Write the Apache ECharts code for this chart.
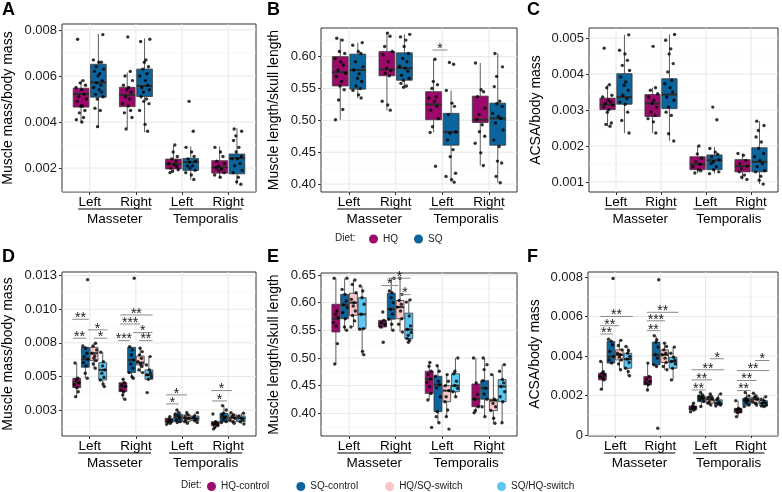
<!DOCTYPE html>
<html>
<head>
<meta charset="utf-8">
<script src="https://cdn.jsdelivr.net/npm/echarts@6/dist/echarts.min.js"></script>
<style>
  html, body { margin: 0; padding: 0; background: #fff; }
  #chart { width: 782px; height: 492px; }
</style>
</head>
<body>
<div id="chart"></div>
<script>
// categories
const SIDES = ['Left', 'Right', 'Left', 'Right'];
const MUSCLES = ['Masseter', 'Temporalis'];
const DIET2 = ['HQ', 'SQ'];
const DIET4 = ['HQ-control', 'SQ-control', 'HQ/SQ-switch', 'SQ/HQ-switch'];

// tick values / labels
const A_TICKS = [0.002, 0.004, 0.006, 0.008];
const A_LABELS = ['0.002', '0.004', '0.006', '0.008'];
const A_MINOR = [0.001, 0.003, 0.005, 0.007];
const B_TICKS = [0.40, 0.45, 0.50, 0.55, 0.60];
const B_LABELS = ['0.40', '0.45', '0.50', '0.55', '0.60'];
const B_MINOR = [0.425, 0.475, 0.525, 0.575, 0.625];
const C_TICKS = [0.001, 0.002, 0.003, 0.004, 0.005];
const C_LABELS = ['0.001', '0.002', '0.003', '0.004', '0.005'];
const C_MINOR = [0.0015, 0.0025, 0.0035, 0.0045];
const D_TICKS = [0.0025, 0.005, 0.0075, 0.01, 0.0125];
const D_LABELS = ['0.003', '0.005', '0.008', '0.010', '0.013'];
const D_MINOR = [0.00125, 0.00375, 0.00625, 0.00875, 0.01125];
const E_TICKS = [0.40, 0.45, 0.50, 0.55, 0.60, 0.65];
const E_LABELS = ['0.40', '0.45', '0.50', '0.55', '0.60', '0.65'];
const E_MINOR = [0.375, 0.425, 0.475, 0.525, 0.575, 0.625];
const F_TICKS = [0, 0.002, 0.004, 0.006, 0.008];
const F_LABELS = ['0', '0.002', '0.004', '0.006', '0.008'];
const F_MINOR = [0.001, 0.003, 0.005, 0.007];

// box stats per category: [min, q1, median, q3, max]  (Masseter L, Masseter R, Temporalis L, Temporalis R)
const A_HQ_BOX = [[0.00398, 0.00465, 0.00522, 0.00547, 0.0058], [0.00373, 0.00467, 0.00518, 0.00551, 0.00615], [0.00181, 0.00196, 0.00217, 0.00239, 0.00297], [0.00157, 0.00178, 0.00203, 0.00232, 0.00294]];
const A_SQ_BOX = [[0.00376, 0.00508, 0.00572, 0.00651, 0.00783], [0.00356, 0.00511, 0.00557, 0.0063, 0.00764], [0.00149, 0.0019, 0.00226, 0.00242, 0.00294], [0.00128, 0.00175, 0.00243, 0.00261, 0.00373]];
const A_HQ_PTS = [
  [0.0076, 0.0058, 0.0057, 0.0056, 0.0055, 0.0054, 0.0052, 0.0051, 0.0050, 0.0049, 0.0047, 0.0047, 0.0045, 0.0044, 0.0042, 0.0041, 0.0040],
  [0.0077, 0.0062, 0.0060, 0.0058, 0.0056, 0.0055, 0.0054, 0.0053, 0.0051, 0.0050, 0.0048, 0.0047, 0.0045, 0.0044, 0.0042, 0.0037],
  [0.0030, 0.0027, 0.0025, 0.0024, 0.0023, 0.0022, 0.00214, 0.00207, 0.0020, 0.00193, 0.00186, 0.0018],
  [0.0029, 0.0027, 0.0025, 0.0023, 0.0022, 0.0021, 0.0020, 0.00196, 0.0019, 0.0018, 0.0017, 0.0016]
];
const A_SQ_PTS = [
  [0.0078, 0.0067, 0.0066, 0.0066, 0.0064, 0.0063, 0.0062, 0.0061, 0.0060, 0.0058, 0.0057, 0.0056, 0.0055, 0.0054, 0.0053, 0.0052, 0.0051, 0.0050, 0.0046, 0.0045, 0.0038],
  [0.0076, 0.0075, 0.0067, 0.0066, 0.0064, 0.0063, 0.0061, 0.0060, 0.0058, 0.0056, 0.0055, 0.0054, 0.0053, 0.0051, 0.0050, 0.0049, 0.0048, 0.0045, 0.0039, 0.0036],
  [0.0049, 0.0036, 0.0029, 0.0027, 0.0025, 0.0024, 0.0023, 0.00226, 0.0021, 0.0021, 0.0020, 0.0019, 0.0018, 0.0017, 0.0015],
  [0.0037, 0.0036, 0.0034, 0.0032, 0.0029, 0.0027, 0.0025, 0.0024, 0.0024, 0.0022, 0.0021, 0.0019, 0.0018, 0.0016, 0.0014, 0.0013]
];

const B_HQ_BOX = [[0.501, 0.554, 0.5755, 0.600, 0.629], [0.516, 0.570, 0.580, 0.608, 0.637], [0.481, 0.501, 0.525, 0.545, 0.596], [0.429, 0.4966, 0.501, 0.538, 0.590]];
const B_SQ_BOX = [[0.535, 0.549, 0.579, 0.604, 0.622], [0.552, 0.563, 0.582, 0.606, 0.635], [0.403, 0.461, 0.4815, 0.511, 0.547], [0.402, 0.461, 0.503, 0.527, 0.605]];
const B_HQ_PTS = [
  [0.629, 0.626, 0.608, 0.605, 0.597, 0.592, 0.587, 0.579, 0.574, 0.569, 0.561, 0.554, 0.548, 0.532, 0.517, 0.501],
  [0.637, 0.632, 0.616, 0.608, 0.603, 0.592, 0.582, 0.578, 0.574, 0.570, 0.530, 0.524, 0.516],
  [0.596, 0.561, 0.556, 0.550, 0.537, 0.535, 0.530, 0.522, 0.516, 0.503, 0.490, 0.481, 0.428],
  [0.590, 0.548, 0.545, 0.537, 0.519, 0.509, 0.501, 0.493, 0.482, 0.475, 0.464, 0.449, 0.429]
];
const B_SQ_PTS = [
  [0.622, 0.618, 0.608, 0.605, 0.592, 0.584, 0.579, 0.573, 0.566, 0.561, 0.554, 0.550, 0.547, 0.540, 0.535],
  [0.635, 0.631, 0.626, 0.616, 0.605, 0.597, 0.592, 0.585, 0.582, 0.577, 0.571, 0.566, 0.563, 0.558, 0.554, 0.552],
  [0.591, 0.588, 0.547, 0.527, 0.522, 0.509, 0.482, 0.480, 0.469, 0.454, 0.443, 0.417, 0.412, 0.407, 0.403],
  [0.605, 0.584, 0.569, 0.553, 0.530, 0.526, 0.522, 0.511, 0.506, 0.503, 0.496, 0.485, 0.469, 0.459, 0.436, 0.433, 0.412, 0.402]
];

const C_HQ_BOX = [[0.00255, 0.00301, 0.00315, 0.00333, 0.0037], [0.00236, 0.00282, 0.00318, 0.00343, 0.00362], [0.00125, 0.00134, 0.00149, 0.0017, 0.0020], [0.00107, 0.00128, 0.00144, 0.00162, 0.00179]];
const C_SQ_BOX = [[0.00236, 0.00316, 0.00336, 0.00401, 0.00509], [0.00214, 0.00304, 0.00343, 0.00387, 0.0051], [0.00123, 0.00134, 0.0016, 0.00175, 0.00197], [0.00094, 0.00128, 0.00156, 0.00195, 0.00269]];
const C_HQ_PTS = [
  [0.00472, 0.0037, 0.00362, 0.00341, 0.00336, 0.00327, 0.00322, 0.00318, 0.00313, 0.00308, 0.00301, 0.00294, 0.00264, 0.0026, 0.00255],
  [0.00477, 0.00362, 0.00355, 0.00345, 0.00336, 0.00327, 0.00318, 0.00308, 0.00294, 0.00285, 0.00276, 0.00267, 0.00236],
  [0.0020, 0.00178, 0.00166, 0.00156, 0.00149, 0.00142, 0.00134, 0.00131, 0.00125],
  [0.00179, 0.00174, 0.0016, 0.00151, 0.00144, 0.00137, 0.00128, 0.00119, 0.00113, 0.00107]
];
const C_SQ_PTS = [
  [0.00509, 0.00466, 0.00456, 0.00438, 0.00424, 0.0041, 0.00392, 0.00378, 0.00369, 0.00355, 0.00341, 0.00331, 0.00322, 0.00316, 0.00294, 0.00271, 0.00236],
  [0.0051, 0.00494, 0.0047, 0.00456, 0.00429, 0.00406, 0.00383, 0.00373, 0.00362, 0.0035, 0.00336, 0.00327, 0.00308, 0.00294, 0.00285, 0.00234, 0.00214],
  [0.00308, 0.00273, 0.00193, 0.00183, 0.00177, 0.0017, 0.00162, 0.00156, 0.00151, 0.00142, 0.00134, 0.00128, 0.00123],
  [0.00269, 0.00257, 0.00243, 0.00225, 0.00211, 0.00193, 0.00179, 0.0017, 0.0016, 0.00151, 0.00142, 0.00132, 0.00128, 0.00116, 0.00105, 0.00094]
];

const D_HQC_BOX = [[0.0035, 0.00416, 0.00453, 0.00486, 0.0060], [0.0033, 0.00386, 0.00424, 0.00453, 0.00478], [0.00143, 0.00156, 0.00171, 0.00188, 0.0020], [0.00109, 0.00133, 0.00151, 0.00163, 0.00175]];
const D_SQC_BOX = [[0.00486, 0.00568, 0.00627, 0.00716, 0.00726], [0.00486, 0.00528, 0.00622, 0.00716, 0.00721], [0.00156, 0.00163, 0.0020, 0.0022, 0.0025], [0.00156, 0.00163, 0.00196, 0.00225, 0.00282]];
const D_HQS_BOX = [[0.0056, 0.00617, 0.00672, 0.00716, 0.00746], [0.00528, 0.00585, 0.00602, 0.00652, 0.00709], [0.00151, 0.00163, 0.00188, 0.00213, 0.0023], [0.00151, 0.00163, 0.00193, 0.00213, 0.0023]];
const D_SQH_BOX = [[0.00424, 0.00473, 0.00548, 0.00602, 0.00679], [0.00475, 0.00478, 0.00511, 0.00548, 0.00647], [0.00156, 0.00171, 0.00188, 0.00205, 0.0023], [0.00146, 0.00163, 0.00188, 0.00205, 0.00225]];
const D_HQC_PTS = [
  [0.0060, 0.00486, 0.00473, 0.00453, 0.00436, 0.00416, 0.00386, 0.00349],
  [0.00478, 0.00453, 0.00436, 0.00424, 0.00399, 0.00386, 0.00362, 0.0033],
  [0.0020, 0.0018, 0.00171, 0.00161, 0.00151, 0.00143],
  [0.0022, 0.00163, 0.00151, 0.00143, 0.00133, 0.00121, 0.00109]
];
const D_SQC_PTS = [
  [0.0122, 0.00726, 0.00709, 0.00672, 0.00647, 0.00627, 0.00602, 0.00578, 0.00523, 0.00486],
  [0.0123, 0.00721, 0.00697, 0.00659, 0.00622, 0.00592, 0.0056, 0.00528, 0.00498, 0.00486],
  [0.0025, 0.0023, 0.0022, 0.00205, 0.00188, 0.00176, 0.00163, 0.00156],
  [0.00282, 0.0025, 0.00225, 0.00213, 0.00196, 0.0018, 0.00163, 0.00156]
];
const D_HQS_PTS = [
  [0.00746, 0.00726, 0.00697, 0.00672, 0.00652, 0.00635, 0.00617, 0.00592, 0.0056],
  [0.00709, 0.00684, 0.0066, 0.00635, 0.0061, 0.00592, 0.00573, 0.00548, 0.00528],
  [0.0023, 0.00213, 0.0020, 0.00188, 0.00176, 0.00163, 0.00151],
  [0.0023, 0.00213, 0.0020, 0.00188, 0.00176, 0.00163, 0.00151]
];
const D_SQH_PTS = [
  [0.00679, 0.0061, 0.00578, 0.00548, 0.00523, 0.00493, 0.00473, 0.00444, 0.00424],
  [0.00647, 0.00585, 0.00548, 0.00528, 0.00511, 0.00493, 0.00478, 0.00379],
  [0.0023, 0.00205, 0.00193, 0.0018, 0.00171, 0.00156],
  [0.00225, 0.00205, 0.00188, 0.00176, 0.00163, 0.00146]
];

const E_HQC_BOX = [[0.489, 0.547, 0.571, 0.597, 0.644], [0.553, 0.556, 0.562, 0.568, 0.570], [0.424, 0.436, 0.462, 0.476, 0.492], [0.401, 0.412, 0.4255, 0.453, 0.50]];
const E_SQC_BOX = [[0.550, 0.571, 0.596, 0.615, 0.644], [0.550, 0.570, 0.588, 0.617, 0.644], [0.383, 0.403, 0.4515, 0.467, 0.486], [0.394, 0.4255, 0.4455, 0.459, 0.50]];
const E_HQS_BOX = [[0.556, 0.577, 0.600, 0.617, 0.641], [0.547, 0.571, 0.592, 0.604, 0.644], [0.394, 0.421, 0.441, 0.450, 0.470], [0.382, 0.405, 0.423, 0.4255, 0.470]];
const E_SQH_BOX = [[0.506, 0.553, 0.579, 0.609, 0.630], [0.5285, 0.535, 0.5515, 0.581, 0.605], [0.430, 0.439, 0.450, 0.4715, 0.500], [0.383, 0.421, 0.4485, 0.461, 0.488]];
const E_HQC_PTS = [
  [0.644, 0.585, 0.579, 0.573, 0.564, 0.558, 0.526, 0.489],
  [0.583, 0.568, 0.564, 0.560, 0.556, 0.5285],
  [0.492, 0.485, 0.476, 0.470, 0.462, 0.456, 0.448, 0.436, 0.424, 0.3745],
  [0.50, 0.455, 0.434, 0.4255, 0.412, 0.405, 0.401]
];
const E_SQC_PTS = [
  [0.644, 0.624, 0.615, 0.603, 0.596, 0.591, 0.582, 0.571, 0.556, 0.550],
  [0.644, 0.621, 0.618, 0.609, 0.600, 0.588, 0.579, 0.570, 0.561, 0.550],
  [0.486, 0.476, 0.467, 0.458, 0.4515, 0.446, 0.430, 0.403, 0.394, 0.383],
  [0.50, 0.488, 0.479, 0.459, 0.4455, 0.435, 0.4255, 0.412, 0.394]
];
const E_HQS_PTS = [
  [0.641, 0.633, 0.618, 0.606, 0.600, 0.594, 0.585, 0.577, 0.567, 0.556],
  [0.644, 0.615, 0.604, 0.597, 0.592, 0.585, 0.571, 0.561, 0.547],
  [0.470, 0.458, 0.450, 0.441, 0.430, 0.421, 0.406, 0.394, 0.3715],
  [0.470, 0.4255, 0.418, 0.412, 0.405, 0.391, 0.382]
];
const E_SQH_PTS = [
  [0.630, 0.621, 0.609, 0.597, 0.579, 0.553, 0.552, 0.512, 0.506],
  [0.605, 0.601, 0.576, 0.558, 0.5515, 0.546, 0.541, 0.535, 0.532, 0.5285],
  [0.500, 0.476, 0.4715, 0.458, 0.450, 0.445, 0.439, 0.430],
  [0.488, 0.476, 0.461, 0.455, 0.4485, 0.439, 0.430, 0.421, 0.383]
];

const F_HQC_BOX = [[0.00232, 0.00279, 0.00296, 0.00313, 0.00372], [0.00228, 0.00254, 0.00271, 0.00296, 0.00364], [0.00118, 0.00127, 0.00135, 0.00147, 0.00161], [0.00093, 0.00113, 0.00127, 0.00135, 0.00174]];
const F_SQC_BOX = [[0.00364, 0.00364, 0.00397, 0.00474, 0.00485], [0.00347, 0.00355, 0.00406, 0.0047, 0.00502], [0.00144, 0.00169, 0.00186, 0.00198, 0.00215], [0.00144, 0.00152, 0.00174, 0.00186, 0.00215]];
const F_HQS_BOX = [[0.0033, 0.0038, 0.00406, 0.00431, 0.00479], [0.0033, 0.00367, 0.00406, 0.00431, 0.00465], [0.00152, 0.00161, 0.00181, 0.00191, 0.00208], [0.00152, 0.00161, 0.00181, 0.00191, 0.00211]];
const F_SQH_BOX = [[0.003, 0.00338, 0.00384, 0.00414, 0.00448], [0.00279, 0.00338, 0.00372, 0.00394, 0.00445], [0.00147, 0.00152, 0.00161, 0.00178, 0.00208], [0.00144, 0.00147, 0.00161, 0.00174, 0.00194]];
const F_HQC_PTS = [
  [0.00372, 0.0032, 0.00313, 0.00305, 0.00296, 0.00288, 0.00279, 0.00232],
  [0.00364, 0.00296, 0.00283, 0.00271, 0.00262, 0.00254, 0.00228],
  [0.00161, 0.00147, 0.0014, 0.00135, 0.00127, 0.00118],
  [0.00174, 0.00135, 0.0013, 0.00127, 0.00118, 0.00113, 0.00093]
];
const F_SQC_PTS = [
  [0.00792, 0.00485, 0.00474, 0.00457, 0.00423, 0.00397, 0.0038, 0.00364],
  [0.00786, 0.00502, 0.00482, 0.0047, 0.00445, 0.00406, 0.00389, 0.00355, 0.00347, 0.00034],
  [0.00215, 0.00203, 0.00198, 0.00191, 0.00186, 0.00178, 0.00169, 0.00144],
  [0.00215, 0.00198, 0.00186, 0.00178, 0.00174, 0.00164, 0.00152, 0.00144]
];
const F_HQS_PTS = [
  [0.00479, 0.00453, 0.00431, 0.00414, 0.00406, 0.00394, 0.0038, 0.0036, 0.0033],
  [0.00465, 0.00448, 0.00431, 0.00414, 0.00406, 0.00389, 0.00367, 0.00347, 0.0033],
  [0.00208, 0.00195, 0.00191, 0.00181, 0.00169, 0.00161, 0.00152],
  [0.00211, 0.00198, 0.00191, 0.00181, 0.00169, 0.00161, 0.00152]
];
const F_SQH_PTS = [
  [0.00448, 0.00428, 0.00414, 0.00397, 0.00384, 0.00367, 0.00338, 0.00321, 0.003],
  [0.00445, 0.00414, 0.00394, 0.0038, 0.00372, 0.0036, 0.00338, 0.00279],
  [0.00208, 0.00186, 0.00178, 0.00169, 0.00161, 0.00152, 0.00147],
  [0.00194, 0.00181, 0.00174, 0.00166, 0.00161, 0.00152, 0.00147, 0.00144]
];

// significance bars: [xFrom, xTo, y, number of stars]
const B_SIG = [[2.79, 3.11, 0.6104, 1]];
const D_SIG = [
  [0.62, 0.98, 0.00925, 2], [0.96, 1.38, 0.00846, 1], [0.64, 0.92, 0.00784, 2], [1.09, 1.38, 0.00784, 1],
  [1.66, 2.36, 0.00957, 2], [1.66, 2.09, 0.0089, 3], [1.94, 2.36, 0.00826, 1], [1.61, 1.87, 0.00766, 3], [2.07, 2.36, 0.00766, 2],
  [2.65, 3.11, 0.00362, 1], [2.65, 2.93, 0.00295, 1], [3.63, 4.08, 0.00394, 1], [3.65, 3.97, 0.00317, 1]
];
const E_SIG = [[1.69, 2.06, 0.6309, 1], [1.84, 2.32, 0.6442, 1], [2.08, 2.32, 0.6145, 1]];
const F_SIG = [
  [0.67, 1.39, 0.0060, 2], [0.67, 1.09, 0.00553, 2], [0.67, 0.95, 0.00511, 2],
  [1.70, 2.40, 0.00621, 2], [1.70, 2.10, 0.00578, 3], [1.70, 1.99, 0.00528, 2],
  [3.10, 3.41, 0.00386, 1], [2.69, 3.41, 0.0033, 2], [2.69, 3.14, 0.00279, 2], [2.69, 2.99, 0.00228, 2],
  [4.09, 4.41, 0.00377, 1], [3.69, 4.41, 0.00326, 2], [3.69, 4.13, 0.00276, 2], [3.69, 3.99, 0.00225, 2]
];

// muscle group brackets under the axis: [from, to, muscle index]
const GROUPS = [[0.75, 2.33, 0], [2.72, 4.3, 1]];

// fixed jitter pattern for the dots (fraction of the jitter width)
const JITTER = [-0.62, 0.35, -0.15, 0.8, -0.9, 0.1, 0.55, -0.4, 0.95, -0.7, 0.25, -0.05, 0.7, -0.3, 0.45, -0.85, 0.15, 0.6, -0.5, 0.85, -0.2];

const COLORS2 = ['#9B0A6B', '#0B659C'];
const COLORS4 = ['#9B0A6B', '#0B659C', '#F8C5C8', '#5CC7F3'];
const FONT = '"Liberation Sans", Arial, Helvetica, sans-serif';

const PANELS = [
  { letter: 'A', rect: [62, 24, 194, 168], yMin: 0.00096, yMax: 0.00826, ticks: A_TICKS, labels: A_LABELS, minor: A_MINOR,
    title: 'Muscle mass/body mass', gap: 47, boxes: [A_HQ_BOX, A_SQ_BOX], pts: [A_HQ_PTS, A_SQ_PTS], sig: [] },
  { letter: 'B', rect: [321, 28, 196, 164], yMin: 0.3875, yMax: 0.645, ticks: B_TICKS, labels: B_LABELS, minor: B_MINOR,
    title: 'Muscle length/skull length', gap: 40, boxes: [B_HQ_BOX, B_SQ_BOX], pts: [B_HQ_PTS, B_SQ_PTS], sig: B_SIG },
  { letter: 'C', rect: [589, 28, 189, 164], yMin: 0.00072, yMax: 0.00528, ticks: C_TICKS, labels: C_LABELS, minor: C_MINOR,
    title: 'ACSA/body mass', gap: 46, boxes: [C_HQ_BOX, C_SQ_BOX], pts: [C_HQ_PTS, C_SQ_PTS], sig: [] },
  { letter: 'D', rect: [62, 272, 194, 164], yMin: 0.00056, yMax: 0.01277, ticks: D_TICKS, labels: D_LABELS, minor: D_MINOR,
    title: 'Muscle mass/body mass', gap: 47, boxes: [D_HQC_BOX, D_SQC_BOX, D_HQS_BOX, D_SQH_BOX], pts: [D_HQC_PTS, D_SQC_PTS, D_HQS_PTS, D_SQH_PTS], sig: D_SIG },
  { letter: 'E', rect: [321, 273, 196, 163], yMin: 0.359, yMax: 0.6536, ticks: E_TICKS, labels: E_LABELS, minor: E_MINOR,
    title: 'Muscle length/skull length', gap: 40, boxes: [E_HQC_BOX, E_SQC_BOX, E_HQS_BOX, E_SQH_BOX], pts: [E_HQC_PTS, E_SQC_PTS, E_HQS_PTS, E_SQH_PTS], sig: E_SIG },
  { letter: 'F', rect: [588, 272, 190, 164], yMin: -0.00005, yMax: 0.00825, ticks: F_TICKS, labels: F_LABELS, minor: F_MINOR,
    title: 'ACSA/body mass', gap: 46, boxes: [F_HQC_BOX, F_SQC_BOX, F_HQS_BOX, F_SQH_BOX], pts: [F_HQC_PTS, F_SQC_PTS, F_HQS_PTS, F_SQH_PTS], sig: F_SIG }
];

function boxRenderer(halfW) {
  return function (params, api) {
    const x = api.value(0);
    const pMin = api.coord([x, api.value(1)]);
    const pQ1 = api.coord([x, api.value(2)]);
    const pMed = api.coord([x, api.value(3)]);
    const pQ3 = api.coord([x, api.value(4)]);
    const pMax = api.coord([x, api.value(5)]);
    const left = api.coord([x - halfW, api.value(3)])[0];
    const right = api.coord([x + halfW, api.value(3)])[0];
    return {
      type: 'group',
      children: [
        { type: 'line', shape: { x1: pMin[0], y1: pMin[1], x2: pQ1[0], y2: pQ1[1] }, style: { stroke: '#333', lineWidth: 0.8 } },
        { type: 'line', shape: { x1: pQ3[0], y1: pQ3[1], x2: pMax[0], y2: pMax[1] }, style: { stroke: '#333', lineWidth: 0.8 } },
        { type: 'rect', shape: { x: left, y: pQ3[1], width: right - left, height: pQ1[1] - pQ3[1] },
          style: { fill: api.visual('color'), stroke: '#3a3a3a', lineWidth: 0.8 } },
        { type: 'line', shape: { x1: left, y1: pMed[1], x2: right, y2: pMed[1] }, style: { stroke: '#2b2b2b', lineWidth: 2 } }
      ]
    };
  };
}

function renderGridLine(params, api) {
  const cs = params.coordSys;
  const kind = api.value(0);
  const v = api.value(1);
  if (kind === 2) {
    const x = api.coord([v, 0])[0];
    return { type: 'line', shape: { x1: x, y1: cs.y, x2: x, y2: cs.y + cs.height }, style: { stroke: '#E6E6E6', lineWidth: 1 } };
  }
  const y = api.coord([1, v])[1];
  return { type: 'line', shape: { x1: cs.x, y1: y, x2: cs.x + cs.width, y2: y },
    style: { stroke: kind === 0 ? '#E6E6E6' : '#F1F1F1', lineWidth: kind === 0 ? 1 : 0.6 } };
}

function renderSig(params, api) {
  const a = api.coord([api.value(0), api.value(2)]);
  const b = api.coord([api.value(1), api.value(2)]);
  return {
    type: 'group',
    children: [
      { type: 'line', shape: { x1: a[0], y1: a[1], x2: b[0], y2: b[1] }, style: { stroke: '#8a8a8a', lineWidth: 1 } },
      { type: 'text', x: (a[0] + b[0]) / 2, y: a[1] - 1,
        style: { text: '*'.repeat(api.value(3)), fill: '#1a1a1a', font: '14px ' + FONT, align: 'center', verticalAlign: 'middle' } }
    ]
  };
}

function renderGroupLabel(params, api) {
  const cs = params.coordSys;
  const x1 = api.coord([api.value(0), 0])[0];
  const x2 = api.coord([api.value(1), 0])[0];
  const yb = cs.y + cs.height;
  return {
    type: 'group',
    children: [
      { type: 'line', shape: { x1: x1, y1: yb + 17, x2: x2, y2: yb + 17 }, style: { stroke: '#000', lineWidth: 1 } },
      { type: 'text', x: (x1 + x2) / 2, y: yb + 27,
        style: { text: MUSCLES[api.value(2)], fill: '#000', font: '13.5px ' + FONT, align: 'center', verticalAlign: 'middle' } }
    ]
  };
}

const grids = [], xAxes = [], yAxes = [], series = [], graphics = [];

PANELS.forEach((p, i) => {
  const n = p.boxes.length;
  const offs = n === 2 ? [-0.1875, 0.1875] : [-0.28125, -0.09375, 0.09375, 0.28125];
  const halfW = n === 2 ? 0.17 : 0.085;
  const spread = n === 2 ? 0.12 : 0.06;
  const names = n === 2 ? DIET2 : DIET4;
  const colors = n === 2 ? COLORS2 : COLORS4;

  grids.push({ left: p.rect[0], top: p.rect[1], width: p.rect[2], height: p.rect[3], show: true,
    borderColor: '#333', borderWidth: 1, backgroundColor: 'transparent', containLabel: false, outerBoundsMode: 'none' });

  xAxes.push({
    type: 'value', gridIndex: i, min: 0.4, max: 4.6,
    axisLine: { show: false }, splitLine: { show: false },
    axisTick: { show: true, customValues: [1, 2, 3, 4], length: 3, lineStyle: { color: '#333' } },
    axisLabel: { customValues: [1, 2, 3, 4], formatter: (v) => SIDES[Math.round(v) - 1],
      fontSize: 13.5, color: '#000', fontFamily: FONT, margin: 3 }
  });

  yAxes.push({
    type: 'value', gridIndex: i, min: p.yMin, max: p.yMax,
    axisLine: { show: false }, splitLine: { show: false },
    axisTick: { show: true, customValues: p.ticks, length: 3, lineStyle: { color: '#333' } },
    axisLabel: { customValues: p.ticks, fontSize: 13, color: '#1a1a1a', fontFamily: FONT, margin: 5,
      formatter: (v) => { const k = p.ticks.findIndex(t => Math.abs(t - v) < 1e-9); return k >= 0 ? p.labels[k] : ''; } },
    name: p.title, nameLocation: 'middle', nameGap: p.gap, nameMoveOverlap: false,
    nameTextStyle: { fontSize: 14, color: '#000', fontFamily: FONT }
  });

  // panel grid lines
  const gl = [];
  p.ticks.forEach(v => gl.push([0, v]));
  p.minor.forEach(v => { if (v > p.yMin && v < p.yMax) gl.push([1, v]); });
  [1, 2, 3, 4].forEach(v => gl.push([2, v]));
  series.push({ type: 'custom', xAxisIndex: i, yAxisIndex: i, data: gl, renderItem: renderGridLine, silent: true, z: 1, clip: false });

  // boxes
  p.boxes.forEach((boxes, g) => {
    series.push({
      type: 'custom', name: names[g], xAxisIndex: i, yAxisIndex: i, silent: true, z: 2,
      itemStyle: { color: colors[g] },
      encode: { x: 0, y: [1, 2, 3, 4, 5] },
      data: boxes.map((b, c) => [c + 1 + offs[g]].concat(b)),
      renderItem: boxRenderer(halfW)
    });
  });

  // jittered dots
  p.pts.forEach((pts, g) => {
    const data = [];
    pts.forEach((vals, c) => {
      vals.forEach((v, k) => {
        const j = JITTER[(k + c * 5 + g * 3) % JITTER.length];
        data.push([c + 1 + offs[g] + j * spread, v]);
      });
    });
    series.push({ type: 'scatter', xAxisIndex: i, yAxisIndex: i, data: data, symbolSize: 3.4, silent: true, z: 4,
      itemStyle: { color: '#000' } });
  });

  // significance bars
  if (p.sig.length) {
    series.push({ type: 'custom', xAxisIndex: i, yAxisIndex: i, data: p.sig, renderItem: renderSig, silent: true, z: 5, clip: false,
      encode: { x: [0, 1], y: 2 } });
  }

  // Masseter / Temporalis labels
  series.push({ type: 'custom', xAxisIndex: i, yAxisIndex: i, data: GROUPS, renderItem: renderGroupLabel, silent: true, z: 5, clip: false,
    encode: { x: [0, 1] } });

  graphics.push({ type: 'text', left: i % 3 === 0 ? 2 : (i % 3 === 1 ? 267 : 527), top: i < 3 ? 1 : 248,
    style: { text: p.letter, font: 'bold 18px ' + FONT, fill: '#000' } });
});

graphics.push({ type: 'text', left: 335, top: 233, style: { text: 'Diet:', font: '10px ' + FONT, fill: '#222' } });
graphics.push({ type: 'text', left: 181, top: 480.5, style: { text: 'Diet:', font: '10px ' + FONT, fill: '#222' } });

const legendBase = { icon: 'circle', itemWidth: 9, itemHeight: 9, padding: 0, selectedMode: false,
  textStyle: { fontSize: 10, color: '#222', fontFamily: FONT } };

const chart = echarts.init(document.getElementById('chart'), null, { renderer: 'canvas' });
chart.setOption({
  animation: false,
  backgroundColor: '#fff',
  grid: grids,
  xAxis: xAxes,
  yAxis: yAxes,
  legend: [
    Object.assign({}, legendBase, { data: DIET2, left: 369, top: 234, itemGap: 16 }),
    Object.assign({}, legendBase, { data: DIET4.slice(0, 3), left: 207, top: 481.5, itemGap: 27 }),
    Object.assign({}, legendBase, { data: DIET4.slice(3), left: 497, top: 481.5 })
  ],
  graphic: graphics,
  series: series
});
</script>
</body>
</html>
